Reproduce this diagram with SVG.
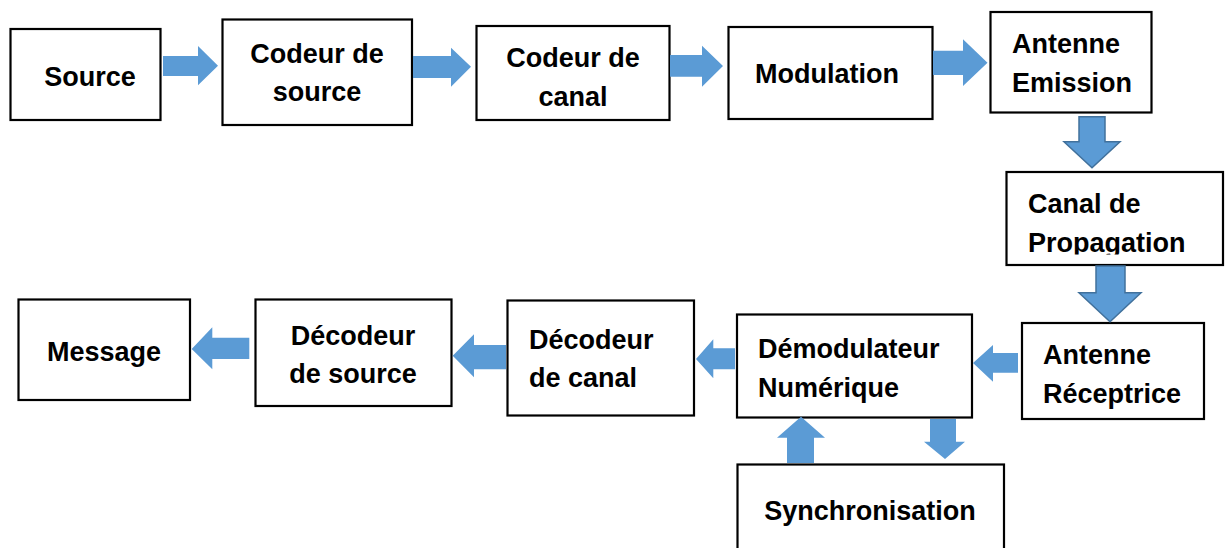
<svg xmlns="http://www.w3.org/2000/svg" width="1227" height="548" viewBox="0 0 1227 548">
<style>
.box{fill:#fff;stroke:#000;stroke-width:2.2}
.t{font-family:"Liberation Sans",Arial,sans-serif;font-weight:bold;font-size:27px;fill:#000}
.m{text-anchor:middle}
.arr{fill:#5B9BD5}
.arro{fill:#5B9BD5;stroke:#41719C;stroke-width:1.5}
</style>
<defs>
<clipPath id="clipProp"><rect x="1000" y="170" width="227" height="84.5"/></clipPath>
</defs>
<rect width="1227" height="548" fill="#fff"/>
<g id="n-source"><rect class="box" x="10.5" y="29" width="150" height="91"/><text class="t m" x="90" y="86">Source</text></g>
<g id="n-codeur-source"><rect class="box" x="222.5" y="19.5" width="189.5" height="105.5"/><text class="t m" x="317" y="63">Codeur de</text><text class="t m" x="317" y="101">source</text></g>
<g id="n-codeur-canal"><rect class="box" x="476.5" y="26" width="193" height="94"/><text class="t m" x="573" y="66.7">Codeur de</text><text class="t m" x="573" y="106">canal</text></g>
<g id="n-modulation"><rect class="box" x="728.5" y="27" width="204" height="92"/><text class="t m" x="827" y="82.7">Modulation</text></g>
<g id="n-antenne-emission"><rect class="box" x="990.5" y="12" width="161" height="100.5"/><text class="t" x="1012" y="52.7">Antenne</text><text class="t" x="1012" y="91.7">Emission</text></g>
<g id="n-canal-propagation"><rect class="box" x="1006.5" y="172" width="216.5" height="93"/><g clip-path="url(#clipProp)"><text class="t" x="1028" y="213.3">Canal de</text><text class="t" x="1028" y="251.7">Propagation</text></g></g>
<g id="n-antenne-receptrice"><rect class="box" x="1022" y="323" width="182" height="96"/><text class="t" x="1043" y="364">Antenne</text><text class="t" x="1043" y="402.7">Réceptrice</text></g>
<g id="n-demodulateur"><rect class="box" x="737" y="314.5" width="235" height="103"/><text class="t" x="758" y="358.3">Démodulateur</text><text class="t" x="758" y="396.7">Numérique</text></g>
<g id="n-decodeur-canal"><rect class="box" x="507.5" y="300.5" width="186.5" height="115"/><text class="t" x="529" y="349.3">Décodeur</text><text class="t" x="529" y="386.7">de canal</text></g>
<g id="n-decodeur-source"><rect class="box" x="255.5" y="299.5" width="196" height="106.5"/><text class="t m" x="353" y="345">Décodeur</text><text class="t m" x="353" y="382.7">de source</text></g>
<g id="n-message"><rect class="box" x="18.5" y="299.5" width="171.5" height="100.5"/><text class="t m" x="104" y="361">Message</text></g>
<g id="n-synchronisation"><rect class="box" x="737.5" y="464.5" width="266.5" height="100"/><text class="t m" x="870" y="520">Synchronisation</text></g>
<g id="connectors">
<polygon class="arr" points="163,56 198,56 198,46 218,65.7 198,85.3 198,76 163,76"/>
<polygon class="arr" points="413,56 451,56 451,47.7 471,66.7 451,86.7 451,78 413,78"/>
<polygon class="arr" points="670,55 702,55 702,45.7 723,66 702,86.7 702,76.7 670,76.7"/>
<polygon class="arr" points="933,50.7 963,50.7 963,39.3 987.5,62.7 963,86 963,75 933,75"/>
<polygon class="arro" points="1079,116.7 1105,116.7 1105,141.7 1120,141.7 1092,167.7 1064,141.7 1079,141.7"/>
<polygon class="arro" points="1096,266 1125,266 1125,292.7 1141,292.7 1110,321.7 1079,292.7 1096,292.7"/>
<polygon class="arr" points="1018,353 993,353 993,345 973,363 993,381.7 993,372.7 1018,372.7"/>
<polygon class="arr" points="735,348.3 713.3,348.3 713.3,339.3 696,359 713.3,378.3 713.3,369.3 735,369.3"/>
<polygon class="arr" points="506,345 474,345 474,334.3 452.7,355.7 474,377.3 474,369.3 506,369.3"/>
<polygon class="arr" points="249.3,337.7 212.3,337.7 212.3,327.3 191.7,349 212.3,369.3 212.3,359 249.3,359"/>
<polygon class="arr" points="787,463 787,437.7 777,437.7 801,416.7 825,437.7 814,437.7 814,463"/>
<polygon class="arr" points="930,419 956,419 956,441.7 965,441.7 945,459 924,441.7 930,441.7"/>
</g>
</svg>
